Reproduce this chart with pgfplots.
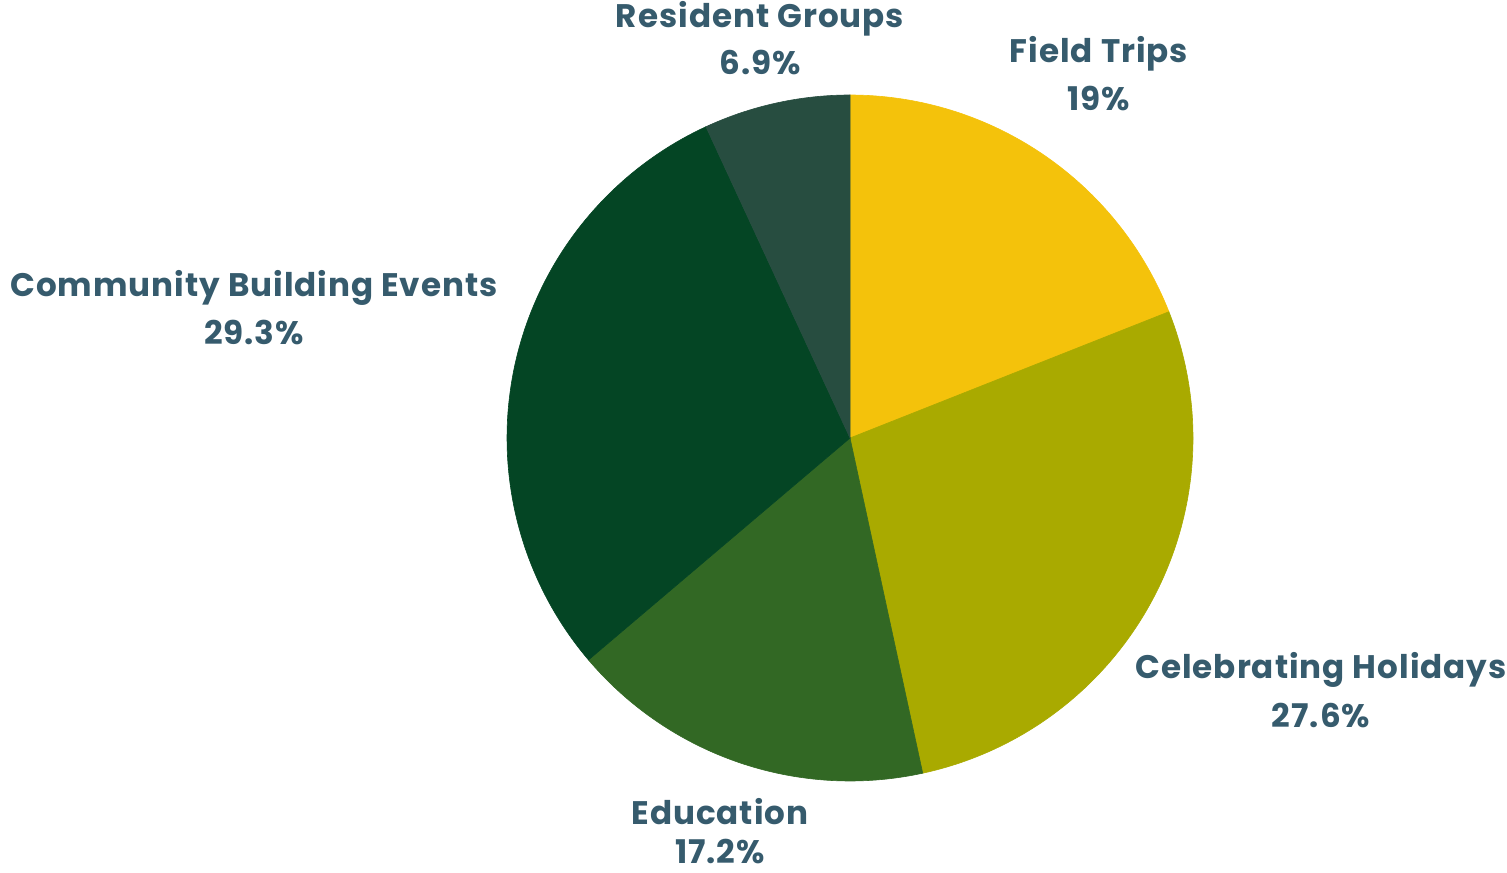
\documentclass[border=0pt]{standalone}
\usepackage{fontspec}
\setmainfont{Poppins}
\usepackage{pgfplots}
\pgfplotsset{compat=1.18}
\usepackage{pgfplotstable}
\definecolor{cFT}{HTML}{F4C20B}
\definecolor{cCH}{HTML}{A9AA00}
\definecolor{cED}{HTML}{326824}
\definecolor{cCB}{HTML}{044524}
\definecolor{cRG}{HTML}{274D40}
\definecolor{txt}{HTML}{365B6D}
\tikzset{lbl/.style={font=\fontsize{16.3}{20}\selectfont\bfseries\addfontfeature{LetterSpace=3}, text=txt, align=center, inner sep=0pt, anchor=base}}
% slices clockwise from 12 o'clock: start (cumulative %), share (%)
\pgfplotstableread{
name start pct
FieldTrips 0 19
CelebratingHolidays 19 27.6
Education 46.6 17.2
CommunityBuilding 63.8 29.3
ResidentGroups 93.1 6.9
}\piedata
\newcommand{\slice}[3]{%
  \pgfmathsetmacro{\aA}{90-3.6*(#1+#2)}%
  \pgfmathsetmacro{\aB}{90-3.6*#1}%
  \addplot[fill=#3, draw=#3, line width=0.3pt, domain=\aA:\aB, samples=120, variable=\t]
    ({850+343*cos(t)},{434+343*sin(t)}) -- (axis cs:850,434) -- cycle;
}
\begin{document}
\begin{tikzpicture}
\begin{axis}[
  x=0.5pt, y=0.5pt, xmin=0, xmax=1507, ymin=0, ymax=872,
  hide axis, clip=false, scale only axis,
]
\pgfplotstablegetelem{0}{start}\of\piedata\let\sA\pgfplotsretval
\pgfplotstablegetelem{0}{pct}\of\piedata\let\pA\pgfplotsretval
\slice{\sA}{\pA}{cFT}
\pgfplotstablegetelem{1}{start}\of\piedata\let\sB\pgfplotsretval
\pgfplotstablegetelem{1}{pct}\of\piedata\let\pB\pgfplotsretval
\slice{\sB}{\pB}{cCH}
\pgfplotstablegetelem{2}{start}\of\piedata\let\sC\pgfplotsretval
\pgfplotstablegetelem{2}{pct}\of\piedata\let\pC\pgfplotsretval
\slice{\sC}{\pC}{cED}
\pgfplotstablegetelem{3}{start}\of\piedata\let\sD\pgfplotsretval
\pgfplotstablegetelem{3}{pct}\of\piedata\let\pD\pgfplotsretval
\slice{\sD}{\pD}{cCB}
\pgfplotstablegetelem{4}{start}\of\piedata\let\sE\pgfplotsretval
\pgfplotstablegetelem{4}{pct}\of\piedata\let\pE\pgfplotsretval
\slice{\sE}{\pE}{cRG}
\node[lbl] at (axis cs:760,{872-28}) {Resident Groups};
\node[lbl] at (axis cs:760,{872-75}) {6.9\%};
\node[lbl] at (axis cs:1099,{872-63}) {Field Trips};
\node[lbl] at (axis cs:1099,{872-111}) {19\%};
\node[lbl] at (axis cs:254,{872-297}) {Community Building Events};
\node[lbl] at (axis cs:254,{872-345}) {29.3\%};
\node[lbl] at (axis cs:1321,{872-679}) {Celebrating Holidays};
\node[lbl] at (axis cs:1321,{872-727}) {27.6\%};
\node[lbl] at (axis cs:720,{872-824}) {Education};
\node[lbl] at (axis cs:720,{872-863}) {17.2\%};
\coordinate (sw) at (axis cs:0,0);
\coordinate (ne) at (axis cs:1507,872);
\end{axis}
\pgfresetboundingbox
\path (sw) rectangle (ne);
\end{tikzpicture}
\end{document}
